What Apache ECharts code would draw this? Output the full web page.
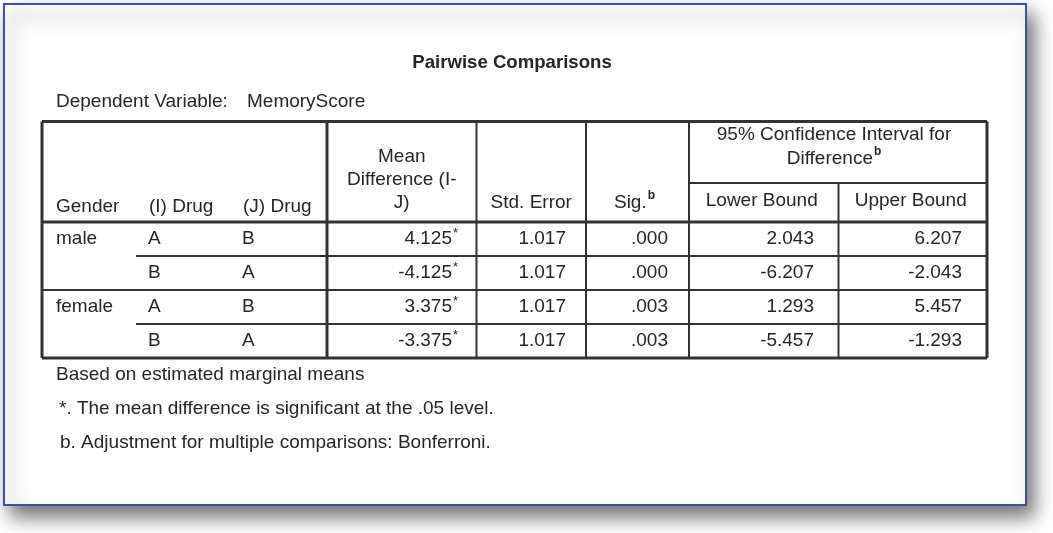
<!DOCTYPE html>
<html><head><meta charset="utf-8">
<script src="https://cdn.jsdelivr.net/npm/echarts@6/dist/echarts.min.js"></script>
<style>html,body{margin:0;padding:0;background:#fff}#c{width:1053px;height:533px}</style>
</head><body><div id="c"></div>
<script>
// ---- data ----
const tableTitle = 'Pairwise Comparisons';
const depLabel = 'Dependent Variable:';
const depValue = 'MemoryScore';
const rowHeaderLabels = ['Gender', '(I) Drug', '(J) Drug'];
const meanDiffHeader = ['Mean', 'Difference (I-', 'J)'];
const stdErrorHeader = 'Std. Error';
const sigHeader = 'Sig.';
const ciHeader = ['95% Confidence Interval for', 'Difference'];
const ciSubHeaders = ['Lower Bound', 'Upper Bound'];
const genders = ['male', 'male', 'female', 'female'];
const drugI = ['A', 'B', 'A', 'B'];
const drugJ = ['B', 'A', 'B', 'A'];
const meanDiff = [4.125, -4.125, 3.375, -3.375];
const meanDiffSignificant = [true, true, true, true];
const stdError = [1.017, 1.017, 1.017, 1.017];
const sig = [0.000, 0.000, 0.003, 0.003];
const lowerBound = [2.043, -6.207, 1.293, -5.457];
const upperBound = [6.207, -2.043, 5.457, -1.293];
const footnotes = [
  'Based on estimated marginal means',
  '*. The mean difference is significant at the .05 level.',
  'b. Adjustment for multiple comparisons: Bonferroni.'
];

// ---- layout / style ----
const FAM = '"Liberation Sans", Arial, Helvetica, sans-serif';
const FONT = '19px ' + FAM;
const BOLD = 'bold 18.6px ' + FAM;
const SUP = 'bold 12px ' + FAM;
const AST = '13px ' + FAM;
const TXT = '#262626';
const LINE = '#333';
const colW = [94, 94, 97, 149.5, 109.5, 103, 149.5, 148.5];
const colX = [0];
colW.forEach(w => colX.push(colX[colX.length - 1] + w));
const tableW = colX[colX.length - 1];
const headerH = 100.5, subH = 61.5, rowH = 34;
const tableH = headerH + rowH * genders.length;

const mctx = document.createElement('canvas').getContext('2d');
function tw(s, font) { mctx.font = font; return mctx.measureText(s).width; }
const f3 = v => v.toFixed(3);
const fsig = v => v.toFixed(3).replace(/^0/, '');

function helpers(api, els) {
  const P = (x, y) => api.coord([x, y]);
  return {
    txt(s, x, y, align, font) {
      const p = P(x, y);
      els.push({ type: 'text', x: p[0], y: p[1], style: { text: s, fill: TXT, font: font || FONT, align: align || 'left', verticalAlign: 'middle' } });
    },
    ln(x1, y1, x2, y2, w) {
      const a = P(x1, y1), b = P(x2, y2);
      els.push({ type: 'line', shape: { x1: a[0], y1: a[1], x2: b[0], y2: b[1] }, style: { stroke: LINE, lineWidth: w } });
    }
  };
}

function headerRender(params, api) {
  const els = [];
  const { txt, ln } = helpers(api, els);
  const pads = [14, 13, 13];
  rowHeaderLabels.forEach((s, i) => txt(s, colX[i] + pads[i], 85.5));
  const c3 = colX[3] + colW[3] / 2;
  meanDiffHeader.forEach((s, i) => txt(s, c3, 35.5 + i * 23, 'center'));
  txt(stdErrorHeader, colX[4] + colW[4] / 2, 81.5, 'center');
  const sw = tw(sigHeader, FONT), bw = tw('b', SUP);
  const sx = colX[5] + colW[5] / 2 - (sw + 1 + bw) / 2 - 3;
  txt(sigHeader, sx, 81.5, 'left');
  txt('b', sx + sw + 1, 74.5, 'left', SUP);
  const c67 = colX[6] + (colW[6] + colW[7]) / 2 - 4;
  txt(ciHeader[0], c67, 13.5, 'center');
  const dw = tw(ciHeader[1], FONT);
  const dx = c67 - (dw + 1 + bw) / 2;
  txt(ciHeader[1], dx, 37.5, 'left');
  txt('b', dx + dw + 1, 30.5, 'left', SUP);
  txt(ciSubHeaders[0], colX[6] + colW[6] / 2 - 2, 79.5, 'center');
  txt(ciSubHeaders[1], colX[7] + colW[7] / 2 - 2, 79.5, 'center');
  for (let r = 1; r < genders.length; r++) {
    const y = headerH + r * rowH;
    const newGroup = genders[r] !== genders[r - 1];
    ln(newGroup ? 0 : colX[1], y, tableW, y, 2);
  }
  [4, 5, 6].forEach(c => ln(colX[c], 0, colX[c], tableH, 2));
  ln(colX[7], subH, colX[7], tableH, 2);
  ln(colX[6], subH, tableW, subH, 2);
  ln(colX[3], 0, colX[3], tableH, 3);
  ln(0, headerH, tableW, headerH, 3);
  ln(0, 0, tableW, 0, 3);
  ln(0, tableH, tableW, tableH, 3);
  ln(0, 0, 0, tableH, 3);
  ln(tableW, 0, tableW, tableH, 3);
  return { type: 'group', children: els };
}

function rowRender(params, api) {
  const r = params.dataIndex;
  const els = [];
  const { txt } = helpers(api, els);
  const yc = headerH + r * rowH + rowH / 2;
  if (r === 0 || genders[r] !== genders[r - 1]) txt(genders[r], colX[0] + 14, yc);
  txt(drugI[r], colX[1] + 12, yc);
  txt(drugJ[r], colX[2] + 12, yc);
  txt(f3(meanDiff[r]), colX[4] - 24.5, yc, 'right');
  if (meanDiffSignificant[r]) txt('*', colX[4] - 23.5, yc - 6, 'left', AST);
  txt(f3(stdError[r]), colX[5] - 20, yc, 'right');
  txt(fsig(sig[r]), colX[6] - 21, yc, 'right');
  txt(f3(lowerBound[r]), colX[7] - 24.5, yc, 'right');
  txt(f3(upperBound[r]), colX[8] - 25, yc, 'right');
  return { type: 'group', children: els };
}

const chart = echarts.init(document.getElementById('c'), null, { renderer: 'canvas' });
const T = (text, x, y, font, align) => ({ type: 'text', x, y, z: 5, style: { text, fill: TXT, font: font || FONT, align: align || 'left', verticalAlign: 'middle' } });
chart.setOption({
  animation: false,
  backgroundColor: '#fff',
  grid: { left: 42, top: 121.5, width: tableW, height: tableH, containLabel: false },
  xAxis: { type: 'value', min: 0, max: tableW, show: false },
  yAxis: { type: 'value', min: 0, max: tableH, inverse: true, show: false },
  graphic: [
    { type: 'rect', z: -10, shape: { x: 4, y: 4, width: 1022, height: 501 },
      style: { fill: '#fff', stroke: '#3d4fa3', lineWidth: 2, shadowBlur: 18, shadowOffsetX: 7, shadowOffsetY: 11, shadowColor: 'rgba(0,0,0,0.55)' } },
    T(tableTitle, 512, 63, BOLD, 'center'),
    T(depLabel, 56, 102),
    T(depValue, 247, 102),
    T(footnotes[0], 56, 375),
    T(footnotes[1], 59, 409),
    T(footnotes[2], 60, 443)
  ],
  series: [
    { type: 'custom', coordinateSystem: 'cartesian2d', data: [[0, 0]], renderItem: headerRender, silent: true, z: 3 },
    { type: 'custom', coordinateSystem: 'cartesian2d', data: genders.map((g, i) => [i, i]), renderItem: rowRender, silent: true, z: 4 }
  ]
});
</script></body></html>
